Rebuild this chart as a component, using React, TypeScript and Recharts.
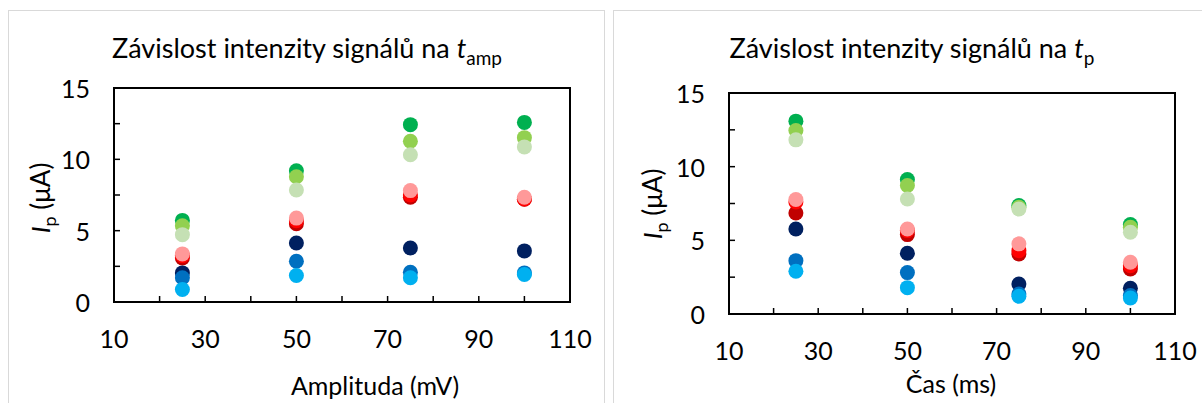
import { ReferenceArea, Scatter, ScatterChart, XAxis, YAxis } from 'recharts'

// x positions shared by both charts
const amplitudes = [25, 50, 75, 100]
const times = [25, 50, 75, 100]

// Závislost na t_amp (amplituda)
const ampGreenDark = [5.72, 9.2, 12.43, 12.59]
const ampGreen = [5.34, 8.78, 11.27, 11.52]
const ampGreenLight = [4.72, 7.85, 10.32, 10.87]
const ampRedDark = [3.09, 5.48, 7.34, 7.2]
const ampRed = [3.25, 5.7, 7.5, 7.22]
const ampPink = [3.37, 5.88, 7.81, 7.34]
const ampNavy = [2.04, 4.14, 3.79, 3.58]
const ampBlue = [1.7, 2.86, 2.09, 2.04]
const ampBlueLight = [0.88, 1.86, 1.7, 1.93]

// Závislost na t_p (čas)
const timeGreenDark = [13.09, 9.13, 7.36, 6.07]
const timeGreen = [12.45, 8.72, 7.25, 5.89]
const timeGreenLight = [11.82, 7.81, 7.13, 5.55]
const timeRedDark = [6.86, 5.39, 4.08, 3.06]
const timeRed = [7.6, 5.66, 4.3, 3.28]
const timePink = [7.77, 5.77, 4.76, 3.51]
const timeNavy = [5.77, 4.12, 2.04, 1.74]
const timeBlue = [3.62, 2.81, 1.36, 1.25]
const timeBlueLight = [2.9, 1.79, 1.2, 1.09]

const seriesColors = [
  '#00B050', '#92D050', '#C5E0B4',
  '#C00000', '#FF0000', '#FF9999',
  '#002060', '#0070C0', '#00B0F0',
]

const ampSeries = [
  ampGreenDark, ampGreen, ampGreenLight,
  ampRedDark, ampRed, ampPink,
  ampNavy, ampBlue, ampBlueLight,
]
const timeSeries = [
  timeGreenDark, timeGreen, timeGreenLight,
  timeRedDark, timeRed, timePink,
  timeNavy, timeBlue, timeBlueLight,
]

const xTicks = [10, 20, 30, 40, 50, 60, 70, 80, 90, 100, 110]
const yTicks = [0, 2.5, 5, 7.5, 10, 12.5, 15]

const FONT = 'Lato, "Open Sans", sans-serif'

function YTick(props: any) {
  const { x, y, payload } = props
  const v = payload.value
  return (
    <g>
      <line x1={x} x2={x + 6} y1={y} y2={y} stroke="#000" strokeWidth={1.5} />
      {v % 5 === 0 ? (
        <text x={x - 24} y={y} textAnchor="end" dominantBaseline="central" fontSize={25} fontFamily={FONT} fill="#000">
          {v}
        </text>
      ) : null}
    </g>
  )
}

function XTick(props: any) {
  const { x, y, payload } = props
  const v = payload.value
  return (
    <g>
      <line x1={x} x2={x} y1={y} y2={y - 6} stroke="#000" strokeWidth={1.5} />
      {(v - 10) % 20 === 0 ? (
        <text x={x} y={y + 36} textAnchor="middle" dominantBaseline="central" fontSize={25} fontFamily={FONT} fill="#000">
          {v}
        </text>
      ) : null}
    </g>
  )
}

function Panel({
  xs,
  series,
  width,
  margin,
}: {
  xs: number[]
  series: number[][]
  width: number
  margin: { top: number; right: number; bottom: number; left: number }
}) {
  return (
    <ScatterChart width={width} height={403} margin={margin}>
      <XAxis
        type="number"
        dataKey="x"
        domain={[10, 110]}
        ticks={xTicks}
        allowDataOverflow
        height={40}
        tickLine={false}
        tickSize={0}
        tickMargin={0}
        axisLine={{ stroke: '#000', strokeWidth: 2 }}
        tick={<XTick />}
        interval={0}
      />
      <YAxis
        type="number"
        dataKey="y"
        domain={[0, 15]}
        ticks={yTicks}
        allowDataOverflow
        width={60}
        tickLine={false}
        tickSize={0}
        tickMargin={0}
        axisLine={{ stroke: '#000', strokeWidth: 2 }}
        tick={<YTick />}
        interval={0}
      />
      <ReferenceArea x1={10} x2={110} y1={0} y2={15} fill="none" stroke="#000" strokeWidth={2} ifOverflow="visible" />
      {series.map((vals, i) => (
        <Scatter
          key={i}
          data={xs.map((x, j) => ({ x, y: vals[j] }))}
          fill={seriesColors[i]}
          isAnimationActive={false}
          shape={(p: any) => <circle cx={p.cx} cy={p.cy} r={7.5} fill={seriesColors[i]} />}
        />
      ))}
    </ScatterChart>
  )
}

const abs = (left: number, top: number): React.CSSProperties => ({
  position: 'absolute',
  left,
  top,
  transform: 'translate(-50%, -50%)',
  whiteSpace: 'nowrap',
  fontFamily: FONT,
  color: '#000',
})

function YLabel({ x, y }: { x: number; y: number }) {
  return (
    <div style={{ ...abs(x, y), transform: 'translate(-50%, -50%) rotate(-90deg)', fontSize: 26 }}>
      <i>I</i>
      <sub style={{ fontSize: 18 }}>p</sub> (μA)
    </div>
  )
}

export default function App() {
  return (
    <div
      style={{
        position: 'absolute',
        left: 0,
        top: 0,
        width: 1202,
        height: 403,
        overflow: 'hidden',
        background: '#fff',
      }}
    >
      <div style={{ position: 'absolute', left: 8, top: 10, width: 597, height: 420, border: '1.5px solid #d9d9d9', boxSizing: 'border-box' }} />
      <div style={{ position: 'absolute', left: 613, top: 10, width: 620, height: 420, border: '1.5px solid #d9d9d9', boxSizing: 'border-box' }} />

      <div style={{ position: 'absolute', left: 0, top: 0 }}>
        <Panel xs={amplitudes} series={ampSeries} width={600} margin={{ top: 88, right: 30, bottom: 61, left: 54 }} />
      </div>
      <div style={{ position: 'absolute', left: 600, top: 0 }}>
        <Panel xs={times} series={timeSeries} width={602} margin={{ top: 93, right: 27, bottom: 49, left: 69 }} />
      </div>

      <div style={{ ...abs(307, 50), fontSize: 27 }}>
        Závislost intenzity signálů na <i>t</i>
        <sub style={{ fontSize: 19 }}>amp</sub>
      </div>
      <div style={{ ...abs(912, 50), fontSize: 27 }}>
        Závislost intenzity signálů na <i>t</i>
        <sub style={{ fontSize: 19 }}>p</sub>
      </div>

      <YLabel x={42} y={198} />
      <YLabel x={654} y={204} />

      <div style={{ ...abs(375, 385), fontSize: 25 }}>Amplituda (mV)</div>
      <div style={{ ...abs(951, 383), fontSize: 25 }}>Čas (ms)</div>
    </div>
  )
}
